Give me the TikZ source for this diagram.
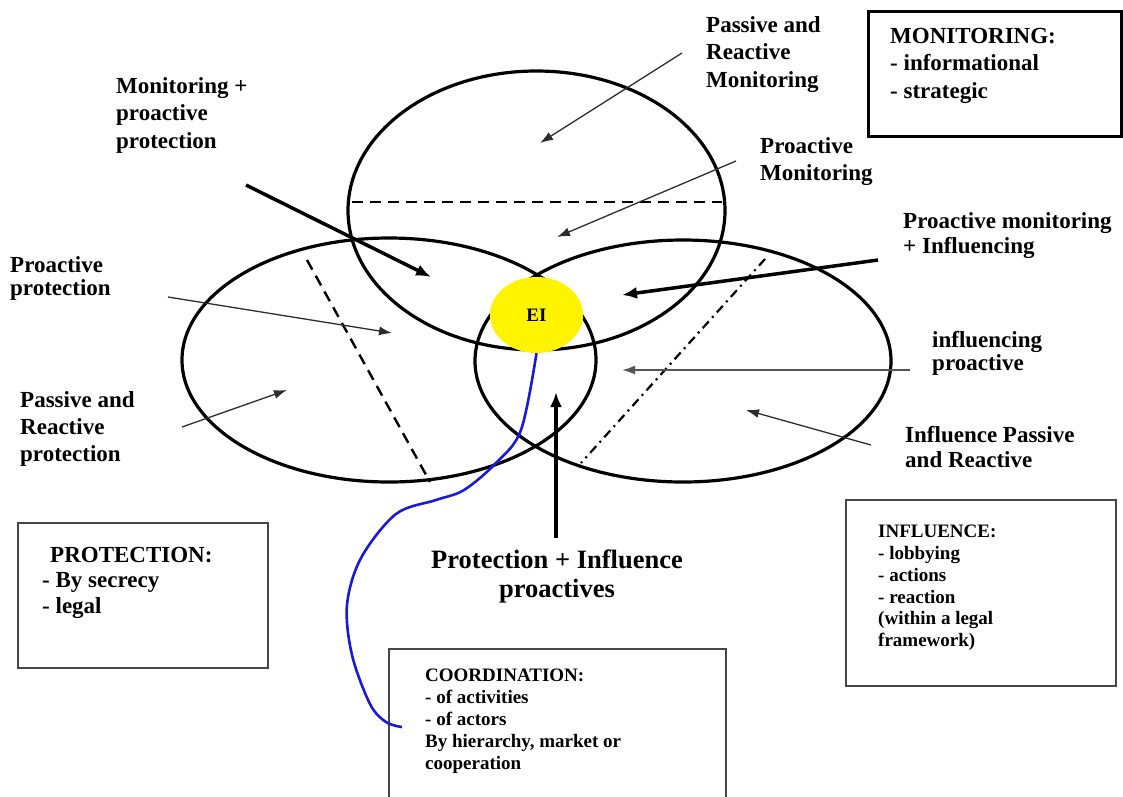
\documentclass[tikz,border=0pt]{standalone}
\usepackage{fontspec}
\setmainfont{Liberation Serif}
\usetikzlibrary{arrows.meta,shapes.geometric}
\definecolor{eiyellow}{RGB}{255,244,0}
\definecolor{thingray}{RGB}{45,45,45}
\definecolor{midgray}{RGB}{85,85,85}
\definecolor{boxgray}{RGB}{70,70,70}
\definecolor{curveblue}{RGB}{25,25,215}
\begin{document}
\begin{tikzpicture}[x=1pt,y=-1pt,
  lbl/.style={font=\fontsize{23}{27.5}\selectfont\bfseries, align=left, inner sep=0pt, anchor=north west},
  boxtext/.style={font=\fontsize{19}{22}\selectfont\bfseries, align=left, inner sep=0pt, anchor=north west},
  ring/.style={line width=3.2pt, black},
  dashline/.style={line width=2.4pt, black, dash pattern=on 11pt off 7pt},
  dashdotline/.style={line width=2.2pt, black, dash pattern=on 9pt off 5pt on 2pt off 5pt},
  thinarrow/.style={line width=1.3pt, thingray, -{Latex[length=13pt,width=9pt]}},
  thickarrow/.style={line width=3.5pt, black, -{Latex[length=15pt,width=12pt]}},
  framebox/.style={draw=boxgray, line width=1.8pt, anchor=north west, inner sep=0pt},
  blueline/.style={line width=2.6pt, curveblue}
]
\useasboundingbox (0,0) rectangle (1123,796);

% circles
\draw[ring] (536.5,210.5) ellipse [x radius=188.5, y radius=139.5];
\draw[ring] (389,360) ellipse [x radius=207, y radius=122];
\draw[ring] (683,361) ellipse [x radius=208, y radius=121];

% separating lines
\coordinate (dTopL) at (352,202);
\coordinate (dTopR) at (722,202);
\coordinate (dLeftT) at (307,260);
\coordinate (dLeftB) at (430,482);
\coordinate (dRightT) at (765,259);
\coordinate (dRightB) at (581,463);
\draw[dashline] (dTopL) -- (dTopR);
\draw[dashline] (dLeftT) -- (dLeftB);
\draw[dashdotline] (dRightT) -- (dRightB);

% EI
\node[ellipse, fill=eiyellow, minimum width=93pt, minimum height=76pt, inner sep=0pt,
      font=\fontsize{19}{22}\selectfont\bfseries] (EI) at (536.5,315) {EI};

% boxes
\node[draw=black, line width=3pt, anchor=north west, inner sep=0pt,
      minimum width=253pt, minimum height=125pt] (monBox) at (867,10) {};
\node[lbl] (monText) at (890,28) {MONITORING:\\- informational\\- strategic};

\node[framebox, minimum width=250pt, minimum height=145pt] (protBox) at (17,522) {};
\node[lbl, font=\fontsize{23}{25.5}\selectfont\bfseries] (protText) at (42,547)
  {\hspace*{8pt}PROTECTION:\\- By secrecy\\- legal};

\node[framebox, minimum width=270pt, minimum height=186pt] (inflBox) at (845,499) {};
\node[boxtext, font=\fontsize{19}{21.8}\selectfont\bfseries] (inflText) at (878,525)
  {INFLUENCE:\\- lobbying\\- actions\\- reaction\\(within a legal\\framework)};

\node[framebox, minimum width=337pt, minimum height=155pt] (coordBox) at (388,648) {};
\node[boxtext] (coordText) at (425,669)
  {COORDINATION:\\- of activities\\- of actors\\By hierarchy, market or\\cooperation};

% labels
\node[lbl] (tMonProt) at (116,77) {Monitoring +\\proactive\\protection};
\node[lbl] (tPRM) at (706,16) {Passive and\\Reactive\\Monitoring};
\node[lbl, font=\fontsize{23}{27}\selectfont\bfseries] (tPM) at (760,137) {Proactive\\Monitoring};
\node[lbl, font=\fontsize{23}{25}\selectfont\bfseries] (tPMI) at (903,212) {Proactive monitoring\\+ Influencing};
\node[lbl, font=\fontsize{23}{23.5}\selectfont\bfseries] (tPP) at (10,256) {Proactive\\protection};
\node[lbl, font=\fontsize{23}{27}\selectfont\bfseries] (tPRP) at (20,391) {Passive and\\Reactive\\protection};
\node[lbl, font=\fontsize{23}{23.5}\selectfont\bfseries] (tIP) at (932,331) {influencing\\proactive};
\node[lbl, font=\fontsize{23}{25}\selectfont\bfseries] (tIPR) at (905,426) {Influence Passive\\and Reactive};
\node[font=\fontsize{26.5}{29}\selectfont\bfseries, align=center, inner sep=0pt, anchor=north]
  (tPIP) at (557,550) {Protection + Influence\\proactives};

% arrow end points
\coordinate (a1s) at (682,53);   \coordinate (a1e) at (540,143);
\coordinate (a2s) at (736,161);  \coordinate (a2e) at (557,237);
\coordinate (a3s) at (168,297);  \coordinate (a3e) at (392,333);
\coordinate (a4s) at (182,427);  \coordinate (a4e) at (287,390);
\coordinate (a5s) at (910,370);  \coordinate (a5e) at (622,370);
\coordinate (a6s) at (871,445);  \coordinate (a6e) at (746,410);
\coordinate (b1s) at (246,185);  \coordinate (b1e) at (431,277);
\coordinate (b2s) at (878,260);  \coordinate (b2e) at (622,295);
\coordinate (b3s) at (556,538);  \coordinate (b3e) at (556,392);

\draw[thinarrow] (a1s) -- (a1e);
\draw[thinarrow] (a2s) -- (a2e);
\draw[thinarrow] (a3s) -- (a3e);
\draw[thinarrow] (a4s) -- (a4e);
\draw[thinarrow, midgray, line width=2pt] (a5s) -- (a5e);
\draw[thinarrow] (a6s) -- (a6e);
\draw[thickarrow] (b1s) -- (b1e);
\draw[thickarrow] (b2s) -- (b2e);
\draw[thickarrow] (b3s) -- (b3e);

% blue coordination curve
\coordinate (coordEnd) at (402,727);
\draw[blueline] plot[smooth, tension=0.55] coordinates {(EI.south) (521,430) (496,463) (464,490) (436,500) (396,514) (361,558) (347,605) (352,655) (370,704) (386,722) (coordEnd)};
\end{tikzpicture}
\end{document}
